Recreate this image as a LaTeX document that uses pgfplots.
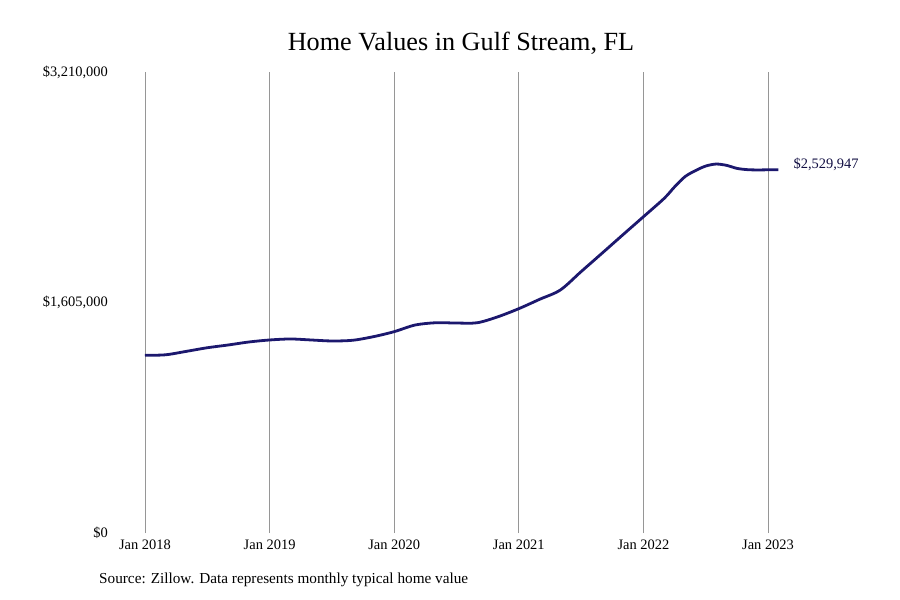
\documentclass[border=0pt]{standalone}
\usepackage{fontspec}
\setmainfont{Liberation Serif}
\usepackage{pgfplots}
\pgfplotsset{compat=1.18}
\definecolor{lineblue}{RGB}{28,24,110}
\definecolor{gridgray}{RGB}{150,150,150}

\begin{document}
\begin{tikzpicture}
    \path[use as bounding box] (-145bp,-67bp) rectangle (755bp,533bp);
    \begin{axis}[
        at={(0,0)}, anchor=origin,
        scale only axis,
        width=633.4bp, height=461bp,
        xmin=0, xmax=61,
        ymin=0, ymax=3210000,
        clip=false,
        axis line style={draw=none},
        major tick length=0pt,
        xtick={0,12,24,36,48,60},
        xticklabels={Jan 2018, Jan 2019, Jan 2020, Jan 2021, Jan 2022, Jan 2023},
        ytick={0,1605000,3210000},
        yticklabels={{\$0},{\$1,605,000},{\$3,210,000}},
        xmajorgrids=true,
        grid style={gridgray, line width=0.8bp},
        font=\fontsize{14.5}{17}\selectfont,
        xticklabel style={anchor=north, inner sep=0pt, yshift=-7bp},
        yticklabel style={anchor=east, inner sep=0pt, xshift=-37bp},
        scaled y ticks=false,
    ]
        \addplot[lineblue, line width=2.8bp, smooth, tension=0.5] coordinates {
            (0,1237000)(2,1241000)(4,1265000)(6,1290000)(8,1309000)(10,1330000)
            (12,1344000)(14,1351000)(16,1344000)(18,1337000)(20,1342000)(22,1367000)
            (24,1402000)(26,1448000)(28,1464000)(30,1462000)(32,1464000)(34,1506000)
            (36,1562000)(38,1627000)(40,1692000)(42,1820000)(44,1947000)(46,2075000)
            (48,2202000)(50,2330000)(51,2410000)(52,2481000)(53,2523000)(54,2555000)
            (55,2569000)(56,2560000)(57,2539000)(58,2530000)(59,2528000)(60,2529000)
            (61,2529947)
        };
        \node[anchor=west, inner sep=0pt, text=lineblue!60!black, font=\fontsize{14.5}{17}\selectfont]
            at (axis cs:61,2529947) [xshift=15bp, yshift=5bp] {\$2,529,947};
    \end{axis}
    \node[font=\fontsize{26.3}{30}\selectfont] at (316bp,490bp) {Home Values in Gulf Stream, FL};
    \node[anchor=west, inner sep=0pt, font=\fontsize{15.3}{18}\selectfont] at (-46bp,-47bp)
        {Source: Zillow. Data represents monthly typical home value};
\end{tikzpicture}
\end{document}
